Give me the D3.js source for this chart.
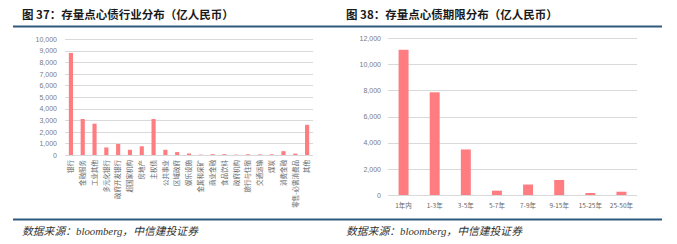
<!DOCTYPE html>
<html>
<head>
<meta charset="utf-8">
<script src="https://cdn.jsdelivr.net/npm/d3@7"></script>
<style>
  body { margin: 0; background: #fff; }
  svg { display: block; }
  .title { font-family: "Noto Sans CJK SC", sans-serif; font-weight: bold; font-size: 11.5px; fill: #1a1a1a; }
  .source { font-family: "Liberation Serif", "Noto Sans CJK SC", serif; font-style: italic; font-size: 10.8px; fill: #333; }
  .tick text { font-family: "Liberation Sans", "Noto Sans CJK SC", sans-serif; font-size: 7px; fill: #7a7a7a; }
  .xlab { font-family: "Noto Sans CJK SC", sans-serif; font-size: 6.5px; fill: #666; }
</style>
</head>
<body>
<div id="chart"></div>
<script>
// Chart 37: industry distribution
const industries = ['银行', '金融服务', '工业其他', '多元化银行', '政府开发银行', '超国家机构', '房地产',
  '主权债', '公共事业', '区域政府', '娱乐设施', '金属和采矿', '商业金融', '食品饮料', '政府机构',
  '旅行与住宿', '交通运输', '煤炭', '消费金融', '零售-必需消费品', '其他']
const industryValues = [8800, 3100, 2700, 650, 950, 450, 750, 3100, 450, 250, 130, 30, 70, 70, 30,
  60, 50, 60, 330, 120, 2600]
const industryTicks = [0, 1000, 2000, 3000, 4000, 5000, 6000, 7000, 8000, 9000, 10000]

// Chart 38: maturity distribution
const maturities = ['1年内', '1-3年', '3-5年', '5-7年', '7-9年', '9-15年', '15-25年', '25-50年']
const maturityValues = [11100, 7850, 3480, 330, 800, 1150, 150, 250]
const maturityTicks = [0, 2000, 4000, 6000, 8000, 10000, 12000]

const titles = ['图 37：存量点心债行业分布（亿人民币）', '图 38：存量点心债期限分布（亿人民币）']
const sourceText = '数据来源：bloomberg，中信建投证券'

let svg = d3.select('#chart').append('svg')
    .attr('width', 677)
    .attr('height', 244)

let barColor = '#ff7c80',
    gridColor = '#d9d9d9',
    ruleColor = '#2f5a7e'

// Title and footer rules
svg.append('line')
  .attr('x1', 13).attr('x2', 662).attr('y1', 26.5).attr('y2', 26.5)
  .attr('stroke', ruleColor).attr('stroke-width', 2)
svg.append('line')
  .attr('x1', 13).attr('x2', 662).attr('y1', 219.5).attr('y2', 219.5)
  .attr('stroke', ruleColor).attr('stroke-width', 2)

;[22, 346].forEach((x, i) => {
  svg.append('text').attr('class', 'title')
    .attr('x', x).attr('y', 19).text(titles[i])
  svg.append('text').attr('class', 'source')
    .attr('x', x).attr('y', 235).text(sourceText)
})

/**
 * Draw a bar chart with horizontal grid lines
 */
function barChart(opts) {
  let x = d3.scaleBand()
      .domain(opts.categories)
      .range([opts.left, opts.right])
      .paddingInner(opts.padding)
      .paddingOuter(opts.padding / 2)
  let y = d3.scaleLinear()
      .domain([0, d3.max(opts.ticks)])
      .range([opts.bottom, opts.top])

  let g = svg.append('g')

  // Grid
  g.selectAll('.grid')
    .data(opts.ticks)
    .enter().append('line')
    .attr('class', 'grid')
    .attr('x1', opts.left).attr('x2', opts.right)
    .attr('y1', d => Math.round(y(d)) + 0.5)
    .attr('y2', d => Math.round(y(d)) + 0.5)
    .attr('stroke', gridColor).attr('stroke-width', 1)

  // Y axis labels
  let yAxis = d3.axisLeft(y)
      .tickValues(opts.ticks)
      .tickFormat(d3.format(','))
      .tickSize(0)
      .tickPadding(opts.left - opts.labelRight)
  g.append('g')
    .attr('transform', 'translate(' + opts.left + ',0)')
    .call(yAxis)
    .call(a => a.select('.domain').remove())

  // Bars
  g.selectAll('.bar')
    .data(opts.values)
    .enter().append('rect')
    .attr('class', 'bar')
    .attr('x', (d, i) => x(opts.categories[i]))
    .attr('width', x.bandwidth())
    .attr('y', d => y(d))
    .attr('height', d => y(0) - y(d))
    .attr('fill', barColor)

  return { g: g, x: x, y: y }
}

// Left chart
let left = barChart({
  categories: industries, values: industryValues, ticks: industryTicks,
  left: 65, right: 313, top: 39, bottom: 155, padding: 0.65, labelRight: 57
})
left.g.selectAll('.xlab')
  .data(industries)
  .enter().append('text')
  .attr('class', 'xlab')
  .attr('text-anchor', 'end')
  .attr('transform', d => 'translate(' + (left.x(d) + left.x.bandwidth() / 2 + 2.3) + ',160) rotate(-90)')
  .text(d => d)

// Right chart
let right = barChart({
  categories: maturities, values: maturityValues, ticks: maturityTicks,
  left: 388, right: 637, top: 38, bottom: 195, padding: 0.68, labelRight: 381
})
right.g.selectAll('.xlab')
  .data(maturities)
  .enter().append('text')
  .attr('class', 'xlab')
  .attr('text-anchor', 'middle')
  .attr('x', d => right.x(d) + right.x.bandwidth() / 2)
  .attr('y', 208)
  .text(d => d)
</script>
</body>
</html>
